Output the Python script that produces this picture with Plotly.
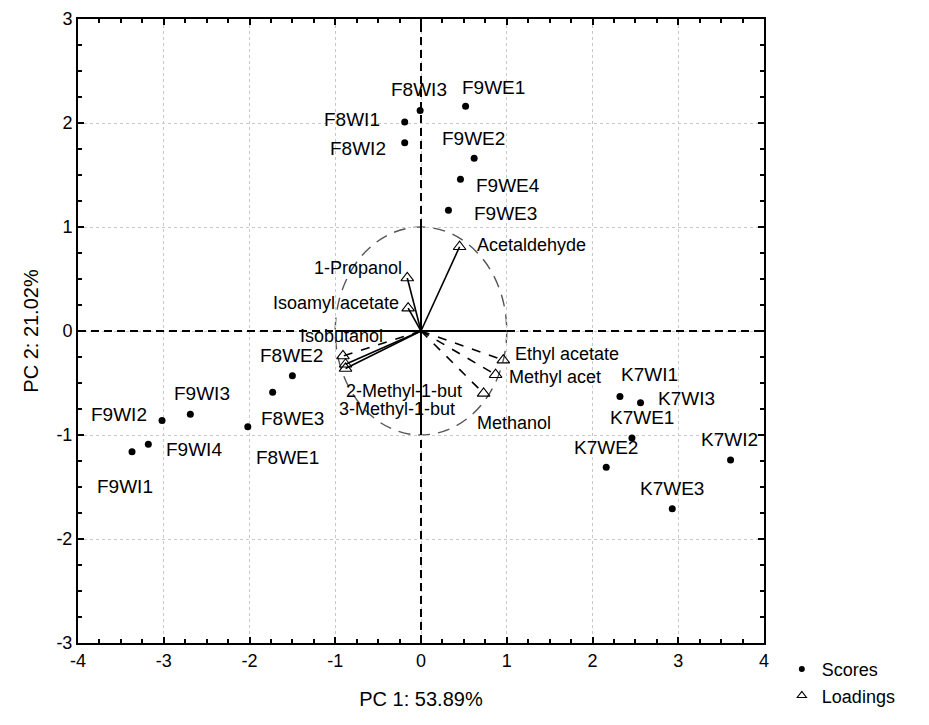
import plotly.graph_objects as go

# ---------------- data ----------------
score_names = ["F8WI3", "F9WE1", "F8WI1", "F8WI2", "F9WE2", "F9WE4", "F9WE3",
               "F9WI2", "F9WI3", "F9WI4", "F9WI1", "F8WE1", "F8WE3", "F8WE2",
               "K7WI1", "K7WI3", "K7WE1", "K7WE2", "K7WI2", "K7WE3"]
score_pc1 = [-0.01, 0.52, -0.19, -0.19, 0.62, 0.46, 0.32,
             -3.02, -2.69, -3.18, -3.37, -2.02, -1.73, -1.50,
             2.32, 2.56, 2.46, 2.16, 3.61, 2.93]
score_pc2 = [2.12, 2.16, 2.01, 1.81, 1.66, 1.46, 1.16,
             -0.86, -0.80, -1.09, -1.16, -0.92, -0.59, -0.43,
             -0.63, -0.69, -1.03, -1.31, -1.24, -1.71]

load_names = ["Acetaldehyde", "1-Propanol", "Isoamyl acetate", "Isobutanol",
              "2-Methyl-1-but", "3-Methyl-1-but", "Ethyl acetate", "Methyl acet", "Methanol"]
load_pc1 = [0.45, -0.16, -0.15, -0.91, -0.88, -0.88, 0.96, 0.87, 0.73]
load_pc2 = [0.81, 0.51, 0.22, -0.24, -0.32, -0.36, -0.28, -0.42, -0.60]

x_ticks = [-4, -3, -2, -1, 0, 1, 2, 3, 4]
y_ticks = [-3, -2, -1, 0, 1, 2, 3]

# ---------------- styles (label placement in pixels, line dashes) ----------------
score_label_offsets = {  # xanchor, xshift, yshift
    "F8WI3": ("center", -1, 21), "F9WE1": ("center", 28, 19), "F8WI1": ("center", -53, 2),
    "F8WI2": ("center", -47, -6), "F9WE2": ("center", -1, 20), "F9WE4": ("center", 48, -6),
    "F9WE3": ("center", 57, -3), "F9WI2": ("center", -43, 6), "F9WI3": ("center", 12, 21),
    "F9WI4": ("center", 46, -5), "F9WI1": ("center", -7, -35), "F8WE1": ("center", 40, -31),
    "F8WE3": ("center", 20, -26), "F8WE2": ("center", -1, 20), "K7WI1": ("center", 30, 22),
    "K7WI3": ("center", 46, 4), "K7WE1": ("center", 10, 21), "K7WE2": ("center", 0, 20),
    "K7WI2": ("center", -1, 20), "K7WE3": ("center", 0, 20),
}
load_label_offsets = {
    "Acetaldehyde": ("left", 15, 2), "1-Propanol": ("right", -3, 10),
    "Isoamyl acetate": ("right", -7, 5), "Isobutanol": ("center", -1, 20),
    "2-Methyl-1-but": ("left", -2, -27), "3-Methyl-1-but": ("left", -9, -41),
    "Ethyl acetate": ("left", 10, 6), "Methyl acet": ("left", 11, -2),
    "Methanol": ("left", -9, -30),
}
load_dash = {"Acetaldehyde": "solid", "1-Propanol": "solid", "Isoamyl acetate": "solid",
             "Isobutanol": "dash", "2-Methyl-1-but": "solid", "3-Methyl-1-but": "solid",
             "Ethyl acetate": "dash", "Methyl acet": "dash", "Methanol": "dash"}

FONT = "Liberation Sans, Arial, sans-serif"

fig = go.Figure()

# loading vectors from origin
for n, lx, ly in zip(load_names, load_pc1, load_pc2):
    fig.add_trace(go.Scatter(x=[0, lx], y=[0, ly], mode="lines",
                             line=dict(color="black", width=1.6, dash=load_dash[n]),
                             showlegend=False, hoverinfo="skip"))

fig.add_trace(go.Scatter(x=score_pc1, y=score_pc2, mode="markers", name="Scores",
                         showlegend=False,
                         marker=dict(symbol="circle", color="black", size=7)))
fig.add_trace(go.Scatter(x=load_pc1, y=load_pc2, mode="markers", name="Loadings",
                         showlegend=False,
                         marker=dict(symbol="triangle-up-open", color="black", size=11,
                                     line=dict(width=1.1, color="black"))))
# legend entries (smaller legend symbols, as in the reference)
fig.add_trace(go.Scatter(x=[None], y=[None], mode="markers", name="Scores",
                         marker=dict(symbol="circle", color="black", size=6)))
fig.add_trace(go.Scatter(x=[None], y=[None], mode="markers", name="Loadings",
                         marker=dict(symbol="triangle-up-open", color="black", size=8,
                                     line=dict(width=1.1, color="black"))))

annotations = []
for n, sx, sy in zip(score_names, score_pc1, score_pc2):
    xa, xs, ys = score_label_offsets[n]
    annotations.append(dict(x=sx, y=sy, text=n, showarrow=False, xanchor=xa, yanchor="middle",
                            xshift=xs, yshift=ys, font=dict(family=FONT, size=19, color="black")))
for n, lx, ly in zip(load_names, load_pc1, load_pc2):
    xa, xs, ys = load_label_offsets[n]
    annotations.append(dict(x=lx, y=ly, text=n, showarrow=False, xanchor=xa, yanchor="middle",
                            xshift=xs, yshift=ys, font=dict(family=FONT, size=18, color="black")))

shapes = [
    # unit circle
    dict(type="circle", xref="x", yref="y", x0=-1, x1=1, y0=-1, y1=1,
         line=dict(color="#555555", width=1.4, dash="12px,8px"), layer="below"),
    # dashed origin lines
    dict(type="line", xref="x", yref="paper", x0=0, x1=0, y0=0, y1=1,
         line=dict(color="black", width=2, dash="8px,5px")),
    dict(type="line", xref="paper", yref="y", x0=0, x1=1, y0=0, y1=0,
         line=dict(color="black", width=2, dash="8px,5px")),
    # solid segments inside unit circle
    dict(type="line", xref="x", yref="y", x0=0, x1=0, y0=-1, y1=1,
         line=dict(color="black", width=2)),
    dict(type="line", xref="x", yref="y", x0=-1, x1=1, y0=0, y1=0,
         line=dict(color="black", width=2)),
]

axis_common = dict(showline=True, linecolor="black", linewidth=2, mirror="ticks",
                   ticks="inside", ticklen=6, tickwidth=1.5, tickcolor="black",
                   showgrid=True, gridcolor="#c8c8c8", griddash="dot", gridwidth=1,
                   zeroline=False, automargin=False,
                   tickfont=dict(family=FONT, size=18, color="black"),
                   minor=dict(ticks="inside", ticklen=4, tickwidth=1.5, tickcolor="black",
                              tickmode="linear", tick0=0, dtick=0.25, showgrid=False))

fig.update_xaxes(range=[-4, 4], tickvals=x_ticks, ticktext=[str(v) for v in x_ticks],
                 title=dict(text="PC 1: 53.89%", font=dict(family=FONT, size=20, color="black"),
                            standoff=22),
                 **axis_common)
fig.update_yaxes(range=[-3, 3], tickvals=y_ticks, ticktext=[str(v) for v in y_ticks],
                 title=dict(text="PC 2: 21.02%", font=dict(family=FONT, size=20, color="black"),
                            standoff=12),
                 **axis_common)

fig.update_layout(
    width=929, height=725,
    margin=dict(l=78, r=165, t=19, b=81),
    paper_bgcolor="white", plot_bgcolor="white",
    annotations=annotations, shapes=shapes,
    showlegend=True,
    legend=dict(x=1.026, y=-0.011, xanchor="left", yanchor="top",
                font=dict(family=FONT, size=18, color="black"),
                bgcolor="rgba(0,0,0,0)", itemsizing="trace", tracegroupgap=0),
    font=dict(family=FONT, color="black"),
)

fig.write_html("out.html")
